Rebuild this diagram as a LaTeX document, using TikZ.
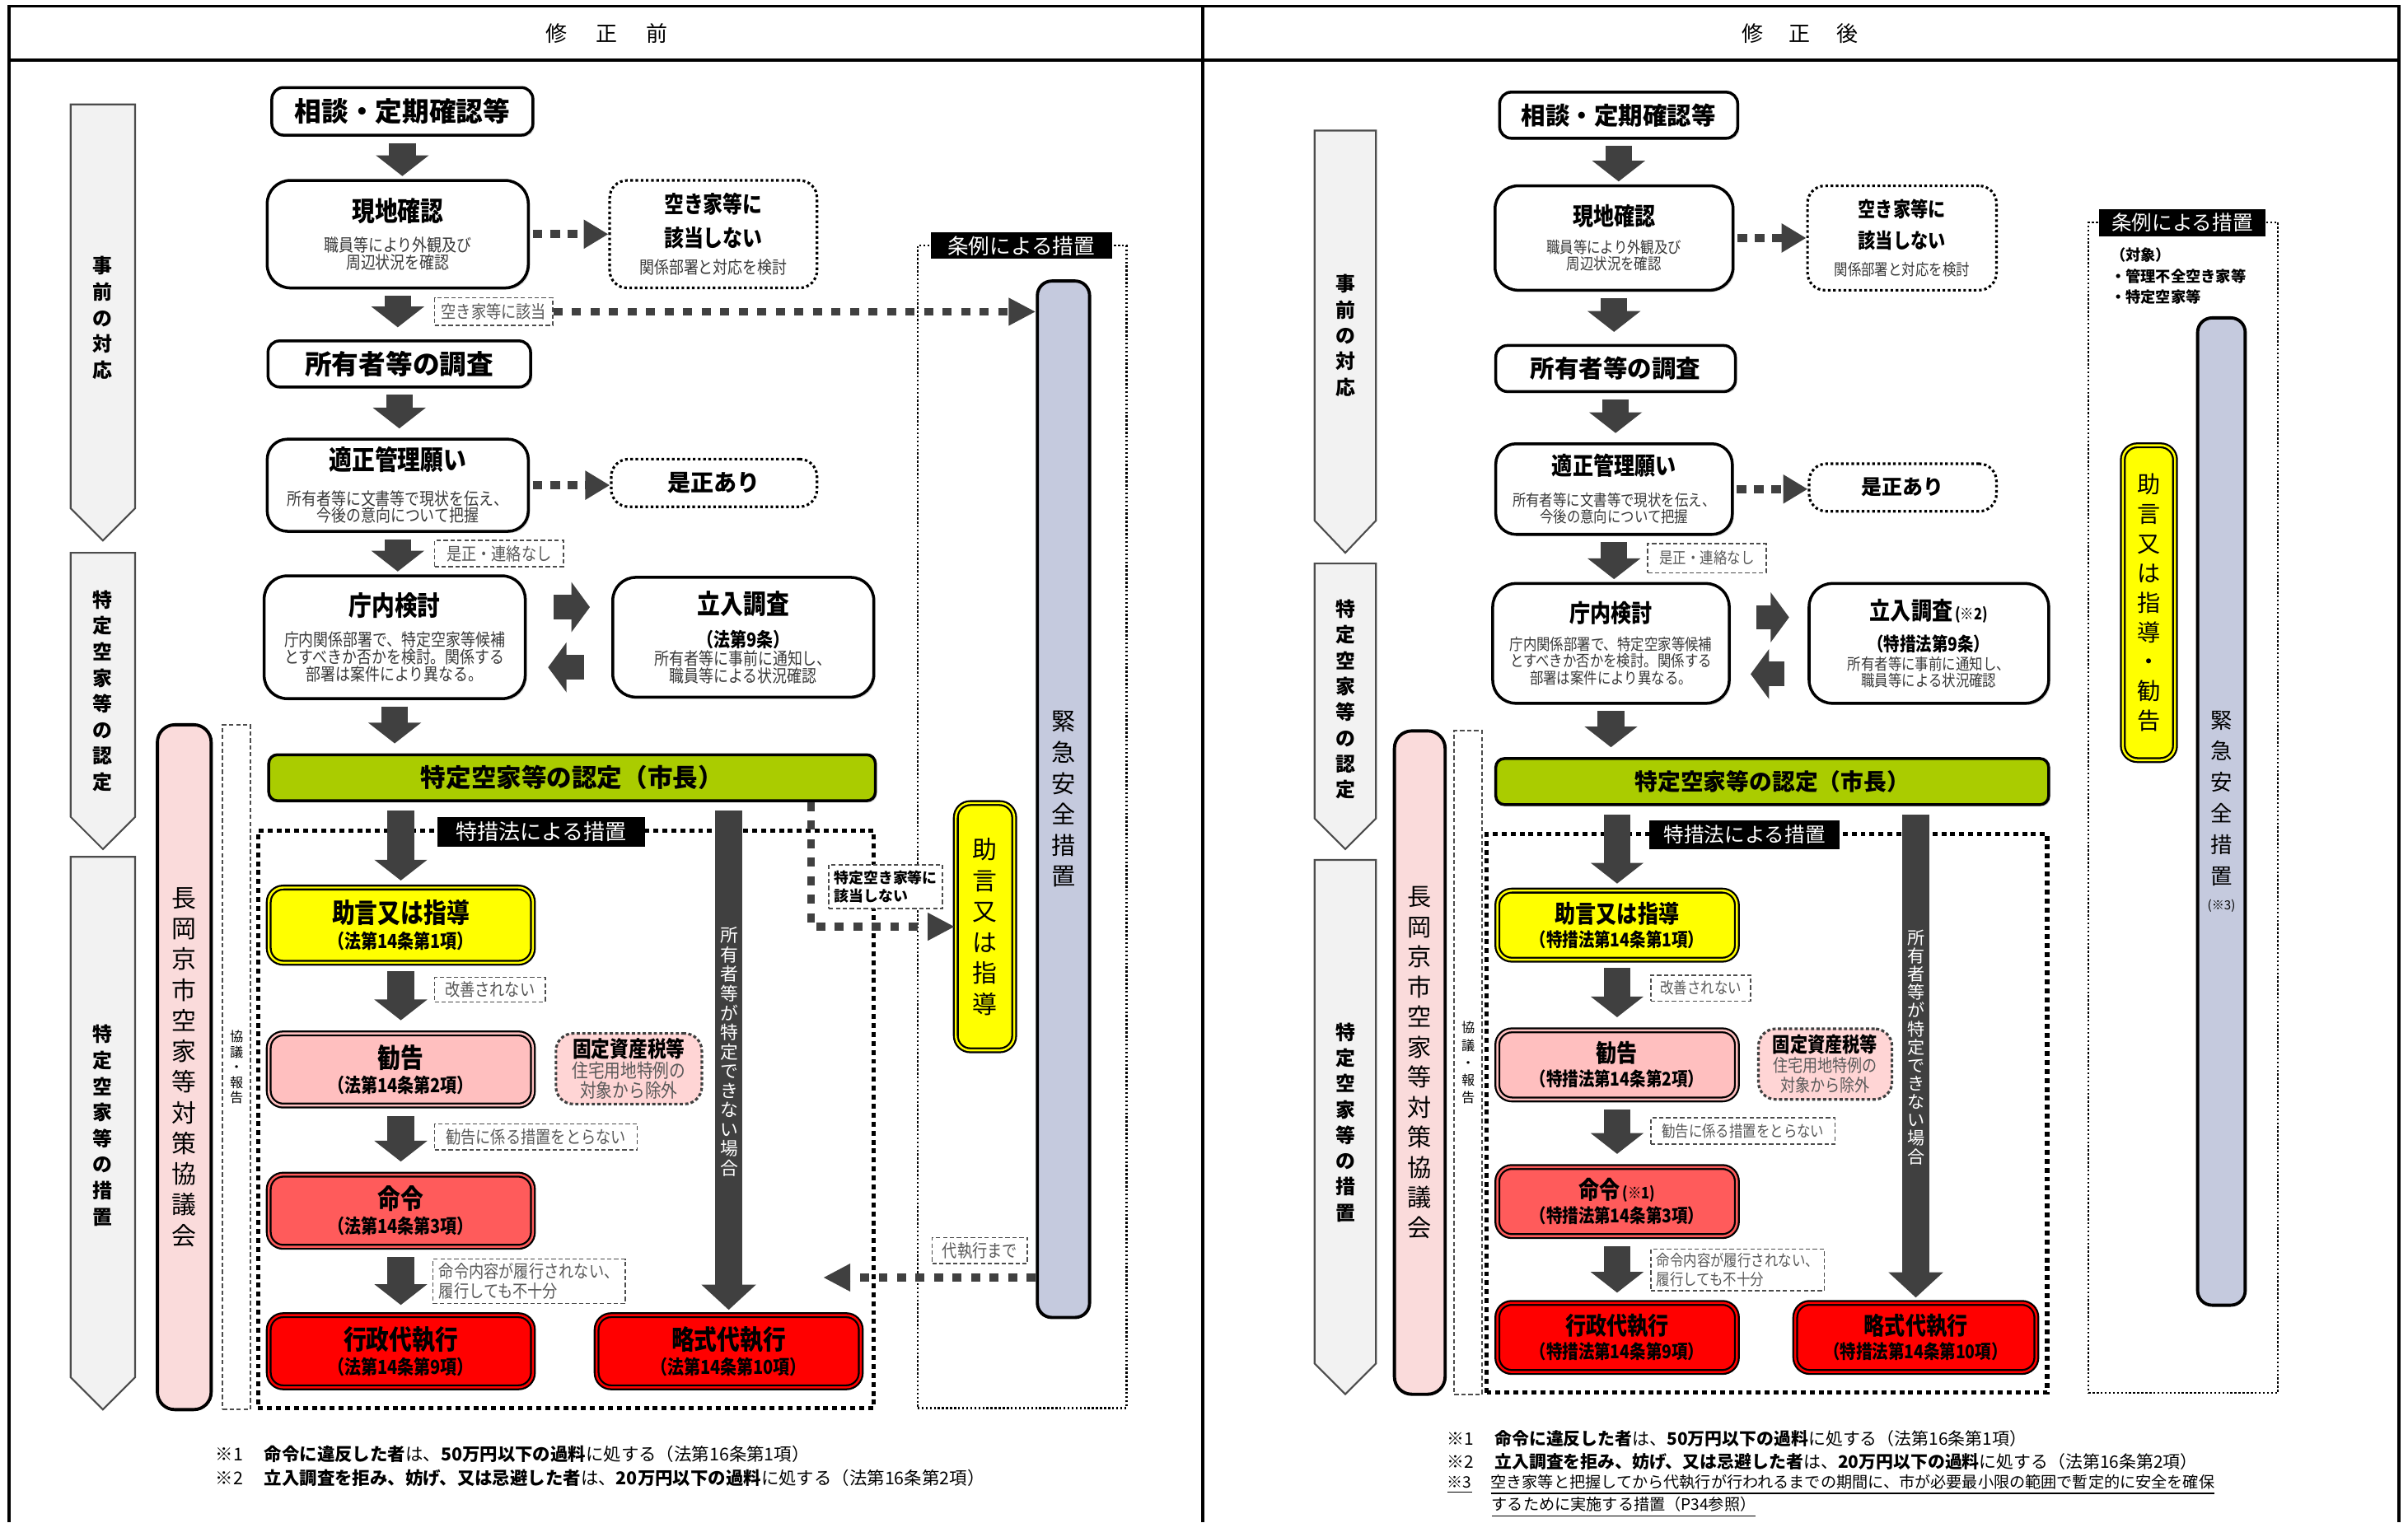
\documentclass[tikz,border=0pt]{standalone}
\usepackage{fontspec}
\setmainfont{Noto Sans CJK JP}
\newfontfamily\nar{Noto Sans CJK JP}[FakeStretch=0.85]
\usetikzlibrary{arrows.meta, shadows}

\definecolor{dgray}{HTML}{404040}
\definecolor{phasegray}{HTML}{F2F2F2}
\definecolor{pinkbar}{HTML}{FADBDB}
\definecolor{ngreen}{HTML}{AACC00}
\definecolor{kyellow}{HTML}{FFFF00}
\definecolor{kpink}{HTML}{FFBFBF}
\definecolor{mred}{HTML}{FF5B5B}
\definecolor{dred}{HTML}{FF0000}
\definecolor{kotpink}{HTML}{FFD5D5}
\definecolor{lav}{HTML}{C5CADE}

% fonts, left (A) and right (B) panel
\newcommand{\tA}{\fontsize{9.3}{11}\selectfont\bfseries\color{black}}
\newcommand{\tB}{\fontsize{8.4}{10}\selectfont\bfseries\color{black}}
\newcommand{\tC}{\fontsize{8}{9.5}\selectfont\bfseries\color{black}}
\newcommand{\tD}{\fontsize{7.1}{8.5}\selectfont\bfseries\color{black}}
\newcommand{\sA}{\nar\fontsize{6}{5.9}\selectfont\color{black!78}}
\newcommand{\sB}{\nar\fontsize{5.5}{5.8}\selectfont\color{black!78}}
\newcommand{\lA}{\nar\fontsize{6.7}{7.5}\selectfont\bfseries\color{black}}
\newcommand{\lB}{\nar\fontsize{6.5}{7.3}\selectfont\bfseries\color{black}}
\newcommand{\hA}{\nar\fontsize{6.1}{6.9}\selectfont}
\newcommand{\hB}{\nar\fontsize{5.5}{6.6}\selectfont}
\newcommand{\kA}{\nar\fontsize{7.6}{8}\selectfont\bfseries\color{black}}
\newcommand{\kB}{\nar\fontsize{6.6}{7}\selectfont}
\newcommand{\kC}{\nar\fontsize{7.1}{8}\selectfont\bfseries\color{black}}
\newcommand{\kD}{\nar\fontsize{6.05}{6.8}\selectfont}

\tikzstyle{box} = [rectangle, rounded corners=4pt,
draw=black, line width=1pt,
fill=white, align=center, inner sep=0pt,
drop shadow={shadow xshift=0.6pt, shadow yshift=-0.6pt, fill=black!35}]
\tikzstyle{dotbox} = [rectangle, rounded corners=6pt,
draw=black, line width=0.9pt, dash pattern=on 0.9pt off 0.9pt,
align=center, inner sep=0pt]
\tikzstyle{hint} = [rectangle, draw=black!70, line width=0.45pt,
dash pattern=on 1.5pt off 0.9pt, fill=white, text=black!65,
align=left, inner sep=0pt]
\tikzstyle{law} = [rectangle, rounded corners=5pt,
draw=black, line width=0.65pt, double distance=0.7pt,
align=center, inner sep=0pt,
drop shadow={shadow xshift=0.6pt, shadow yshift=-0.6pt, fill=black!35}]
\tikzstyle{kotbox} = [rectangle, rounded corners=6pt,
draw=black!75, line width=0.9pt, dash pattern=on 1.1pt off 0.8pt,
fill=kotpink, text=black!65, align=center, inner sep=0pt]
\tikzstyle{tag} = [rectangle, fill=black, text=white, inner sep=0pt]
\tikzstyle{tokuframe} = [rectangle, draw=black, line width=1.5pt,
dash pattern=on 1.7pt off 1.4pt, inner sep=0pt]
\tikzstyle{joframe} = [rectangle, draw=black, line width=0.65pt,
dash pattern=on 0.7pt off 0.7pt, inner sep=0pt]
\tikzstyle{phase} = [draw=black!70, line width=0.6pt, fill=phasegray]
\tikzstyle{vtext} = [align=center, inner sep=0pt]
\tikzstyle{fat} = [draw=dgray, line width=9.2pt,
-{Triangle[length=0pt 0.78, width=0pt 1.95]},
shorten <=2.2pt, shorten >=1.5pt]
\tikzstyle{sqarrow} = [draw=dgray, line width=2.9pt,
dash pattern=on 3.4pt off 2.6pt,
-{Triangle[length=8.5pt, width=9.5pt]}]
\tikzstyle{dasharrow} = [draw=dgray, line width=2.7pt,
dash pattern=on 3.1pt off 3.3pt,
-{Triangle[length=9.4pt, width=9pt]}]
\tikzset{wh/.style 2 args={minimum width=#1*0.01864cm, minimum height=#2*0.01864cm}}

\begin{document}
\begin{tikzpicture}[x=0.01864cm, y=-0.01864cm]
\useasboundingbox (0,0) rectangle (1568,991.4);

% table
\draw[line width=1.1pt] (6,991.4) -- (6,4) -- (1562,4) -- (1562,991.4);
\draw[line width=1.1pt] (6,39) -- (1562,39);
\draw[line width=1.1pt] (783,4) -- (783,991.4);
\node (headA) [font=\fontsize{7.4}{9}\selectfont] at (395,22) {修\hspace{10pt}正\hspace{10pt}前};
\node (headB) [font=\fontsize{7.4}{9}\selectfont] at (1172,22) {修\hspace{9pt}正\hspace{9pt}後};

%%%%% 修正前 %%%%%
\draw[phase] (46,68) -- (88,68) -- (88,331) -- (67,352) -- (46,331) -- cycle;
\draw[phase] (46,360) -- (88,360) -- (88,532) -- (67,553) -- (46,532) -- cycle;
\draw[phase] (46,558) -- (88,558) -- (88,897) -- (67,918) -- (46,897) -- cycle;
\node (phA1) [vtext, font=\fontsize{6.8}{9}\selectfont\bfseries] at (67,207) {事\\前\\の\\対\\応};
\node (phA2) [vtext, font=\fontsize{6.8}{9}\selectfont\bfseries] at (67,450) {特\\定\\空\\家\\等\\の\\認\\定};
\node (phA3) [vtext, font=\fontsize{6.8}{9}\selectfont\bfseries] at (67,733) {特\\定\\空\\家\\等\\の\\措\\置};

\node (kyoA) [rectangle, rounded corners=6pt, draw=black, line width=1.1pt, fill=pinkbar, wh={35}{446}, vtext, font=\fontsize{8.5}{10.6}\selectfont] at (120,695) {長\\岡\\京\\市\\空\\家\\等\\対\\策\\協\\議\\会};
\node (hokA) [rectangle, draw=black!70, line width=0.5pt, dash pattern=on 1.5pt off 0.9pt, wh={18}{446}, vtext, font=\fontsize{4.6}{5.3}\selectfont] at (154,695) {協\\議\\・\\報\\告};

\node (sodanA) [box, wh={170}{31}, font=\tA] at (262,72.5) {相談・定期確認等};
\node (genchiA) [box, rounded corners=8pt, wh={170}{70}, font=\sA] at (259,152.5) {{\tA 現地確認}\\[3.5pt]職員等により外観及び\\周辺状況を確認};
\node (akiyaA) [dotbox, wh={135}{70}, font=\sA] at (464.5,152.5) {{\tC 空き家等に}\\[3.1pt]{\tC 該当しない}\\[3.6pt]関係部署と対応を検討};
\node (gaitoA) [hint, wh={77}{18}, font=\hA] at (321.5,203) {空き家等に該当};
\node (shoyuA) [box, wh={171}{30}, font=\tA] at (260,237) {所有者等の調査};
\node (tekiseiA) [box, rounded corners=7pt, wh={170}{60}, font=\sA] at (259,316) {{\tA 適正管理願い}\\[5pt]所有者等に文書等で現状を伝え、\\今後の意向について把握};
\node (zeseiA) [dotbox, wh={134}{31}, font=\tC] at (465,314.5) {是正あり};
\node (renrakuA) [hint, wh={84}{17}, font=\hA] at (325,360.5) {是正・連絡なし};
\node (chonaiA) [box, rounded corners=8pt, wh={170}{80}, font=\sA] at (257,415) {{\tA 庁内検討}\\[3.6pt]庁内関係部署で、特定空家等候補\\とすべきか否かを検討。関係する\\部署は案件により異なる。};
\node (tachiA) [box, rounded corners=8pt, wh={170}{78}, font=\sA] at (484,415) {{\tA 立入調査}\\[3.6pt]{\lA （法第9条）}\\[0.5pt]所有者等に事前に通知し、\\職員等による状況確認};
\node (ninteiA) [box, rounded corners=3pt, fill=ngreen, wh={395}{30}, font=\fontsize{8.7}{10}\selectfont\bfseries] at (372.5,506.5) {特定空家等の認定（市長）};

\node (tokuA) [tokuframe, wh={401}{376}] at (368.5,729) {};
\node (tokutagA) [tag, wh={135}{19.5}, font=\fontsize{7.4}{8}\selectfont] at (352.5,541.8) {特措法による措置};

\node (jogenA) [law, fill=kyellow, double=kyellow, wh={172}{49}, font=\lA] at (261,602.5) {{\tA 助言又は指導}\\[1.1pt]（法第14条第1項）};
\node (kaizenA) [hint, wh={72}{16}, font=\hA] at (319,644.5) {改善されない};
\node (kankokuA) [law, fill=kpink, double=kpink, wh={172}{47}, font=\lA] at (261,696.5) {{\tA 勧告}\\[1.1pt]（法第14条第2項）};
\node (koteiA) [kotbox, wh={95}{46}, font=\kB] at (409.5,696) {{\kA 固定資産税等}\\住宅用地特例の\\対象から除外};
\node (nashiA) [hint, wh={132}{17}, font=\hA] at (349,740.5) {勧告に係る措置をとらない};
\node (meireiA) [law, fill=mred, double=mred, wh={172}{47}, font=\lA] at (261,788.5) {{\tA 命令}\\[1.1pt]（法第14条第3項）};
\node (rikouA) [hint, wh={125}{29}, font=\hA] at (344.5,834.5) {命令内容が履行されない、\\履行しても不十分};
\node (gyoseiA) [law, fill=dred, double=dred, wh={172}{47}, font=\lA] at (261,880) {{\tA 行政代執行}\\[1.1pt]（法第14条第9項）};
\node (ryakuA) [law, fill=dred, double=dred, wh={172}{47}, font=\lA] at (474.5,880) {{\tA 略式代執行}\\[1.1pt]（法第14条第10項）};

\node (joreiA) [joframe, wh={136}{757}] at (665.5,538.5) {};
\node (joreitagA) [tag, wh={118}{17}, font=\fontsize{7.3}{8}\selectfont] at (665,160) {条例による措置};
\node (kinkyuA) [rectangle, rounded corners=5pt, draw=black, line width=1.1pt, fill=lav, wh={34}{675}, vtext, font=\fontsize{8.3}{10.7}\selectfont] at (692.5,520.5) {緊\\急\\安\\全\\措\\置};
\node (jogenB) [law, fill=kyellow, double=kyellow, wh={38}{161}, font=\fontsize{8.5}{10.7}\selectfont] at (641.4,603.5) {助\\言\\又\\は\\指\\導};
\node (notokuA) [hint, text=black, wh={74}{28.4}, font=\fontsize{5.1}{6.3}\selectfont\bfseries] at (576.7,577.5) {特定空き家等に\\該当しない};
\node (madeA) [hint, wh={62}{17}, font=\hA] at (638,814.5) {代執行まで};
\coordinate (tipA) at (536,832);

\node (fnA1) [anchor=west, inner sep=0pt, font=\fontsize{6.1}{7}\selectfont] at (140,947) {※1\hspace{1.2em}{\bfseries 命令に違反した者}は、{\bfseries 50万円以下の過料}に処する（法第16条第1項）};
\node (fnA2) [anchor=west, inner sep=0pt, font=\fontsize{6.1}{7}\selectfont] at (140,962.5) {※2\hspace{1.2em}{\bfseries 立入調査を拒み、妨げ、又は忌避した者}は、{\bfseries 20万円以下の過料}に処する（法第16条第2項）};

\draw[fat, shorten >=1pt] (sodanA.south) -- (sodanA.south |- genchiA.north);
\draw[fat, shorten >=4.2pt] (genchiA.south) -- (genchiA.south |- shoyuA.north);
\draw[fat, shorten >=3.2pt] (shoyuA.south) -- (shoyuA.south |- tekiseiA.north);
\draw[fat, shorten >=1pt] (tekiseiA.south) -- (tekiseiA.south |- chonaiA.north);
\draw[fat, shorten >=3.4pt] (chonaiA.south) -- (chonaiA.south |- ninteiA.north);
\draw[fat, shorten <=2.9pt, shorten >=2.1pt] (jogenA.north |- ninteiA.south) -- (jogenA.north);
\draw[fat, shorten <=2.6pt, shorten >=4.2pt] (jogenA.south) -- (kankokuA.north);
\draw[fat, shorten <=3.2pt, shorten >=4.2pt] (kankokuA.south) -- (meireiA.north);
\draw[fat, shorten <=3.2pt, shorten >=3.2pt] (meireiA.south) -- (gyoseiA.north);
\draw[fat, -{Triangle[length=0pt 0.95, width=0pt 2]}, shorten <=2.9pt] (ryakuA.north |- ninteiA.south) -- (ryakuA.north);
\node (fukaA) [vtext, text=white, font=\fontsize{6.2}{6.7}\selectfont] at (475,685) {所\\有\\者\\等\\が\\特\\定\\で\\き\\な\\い\\場\\合};
\draw[fat, line width=8.5pt, -{Triangle[length=0pt 0.75, width=0pt 2]}, shorten <=9.3pt, shorten >=7.4pt] ([yshift=10.4pt]chonaiA.east) -- ([yshift=10.4pt]tachiA.west);
\draw[fat, line width=8.5pt, -{Triangle[length=0pt 0.75, width=0pt 2]}, shorten <=9.3pt, shorten >=7.4pt] ([yshift=-10.4pt]tachiA.west) -- ([yshift=-10.4pt]chonaiA.east);
\draw[sqarrow, shorten <=1pt] (genchiA.east) -- (akiyaA.west);
\draw[sqarrow, shorten <=1pt] (tekiseiA.east) -- (tekiseiA.east -| zeseiA.west);
\draw[dasharrow] (gaitoA.east) -- (gaitoA.east -| kinkyuA.west);
\draw[dasharrow] ([xshift=2.9cm]ninteiA.south) |- (jogenB.west);
\draw[dasharrow] (kinkyuA.west |- tipA) -- (tipA);

%%%%% 修正後 %%%%%
\draw[phase] (856,85) -- (896,85) -- (896,339) -- (876,360) -- (856,339) -- cycle;
\draw[phase] (856,367) -- (896,367) -- (896,533) -- (876,553) -- (856,533) -- cycle;
\draw[phase] (856,560) -- (896,560) -- (896,888) -- (876,908) -- (856,888) -- cycle;
\node (phB1) [vtext, font=\fontsize{6.8}{8.9}\selectfont\bfseries] at (876,218.5) {事\\前\\の\\対\\応};
\node (phB2) [vtext, font=\fontsize{6.8}{8.9}\selectfont\bfseries] at (876,455.5) {特\\定\\空\\家\\等\\の\\認\\定};
\node (phB3) [vtext, font=\fontsize{6.8}{8.9}\selectfont\bfseries] at (876,731) {特\\定\\空\\家\\等\\の\\措\\置};

\node (kyoB) [rectangle, rounded corners=6pt, draw=black, line width=1.1pt, fill=pinkbar, wh={33}{432}, vtext, font=\fontsize{8.3}{10.4}\selectfont] at (924.5,692) {長\\岡\\京\\市\\空\\家\\等\\対\\策\\協\\議\\会};
\node (hokB) [rectangle, draw=black!70, line width=0.5pt, dash pattern=on 1.5pt off 0.9pt, wh={18}{432}, vtext, font=\fontsize{4.6}{6}\selectfont] at (956,692) {協\\議\\・\\報\\告};

\node (sodanC) [box, wh={155}{30}, font=\tB] at (1054,75) {相談・定期確認等};
\node (genchiC) [box, rounded corners=8pt, wh={155}{68}, font=\sB] at (1051,155) {{\tB 現地確認}\\[3.7pt]職員等により外観及び\\周辺状況を確認};
\node (akiyaC) [dotbox, wh={123}{68}, font=\sB] at (1238.5,155) {{\tD 空き家等に}\\[3pt]{\tD 該当しない}\\[3.4pt]関係部署と対応を検討};
\node (shoyuC) [box, wh={156}{30}, font=\tB] at (1052,240) {所有者等の調査};
\node (tekiseiC) [box, rounded corners=7pt, wh={154}{59}, font=\sB] at (1051,318.5) {{\tB 適正管理願い}\\[4.8pt]所有者等に文書等で現状を伝え、\\今後の意向について把握};
\node (zeseiC) [dotbox, wh={122}{31}, font=\tD] at (1239,317.5) {是正あり};
\node (renrakuC) [hint, wh={77}{19}, font=\hB] at (1111.5,363.5) {是正・連絡なし};
\node (chonaiC) [box, rounded corners=8pt, wh={154}{78}, font=\sB] at (1049,419) {{\tB 庁内検討}\\[3.7pt]庁内関係部署で、特定空家等候補\\とすべきか否かを検討。関係する\\部署は案件により異なる。};
\node (tachiC) [box, rounded corners=8pt, wh={156}{78}, font=\sB] at (1256,419) {{\tB 立入調査}{\fontsize{5.5}{6}\selectfont\bfseries\color{black}\,(※2)}\\[3pt]{\lB （特措法第9条）}\\[0.8pt]所有者等に事前に通知し、\\職員等による状況確認};
\node (ninteiC) [box, rounded corners=3pt, fill=ngreen, wh={360}{30}, font=\fontsize{7.9}{9}\selectfont\bfseries] at (1154,509) {特定空家等の認定（市長）};

\node (tokuC) [tokuframe, wh={365}{364}] at (1150.5,725) {};
\node (tokutagC) [tag, wh={124}{19}, font=\fontsize{7}{8}\selectfont] at (1136,543.7) {特措法による措置};

\node (jogenC) [law, fill=kyellow, double=kyellow, wh={156}{45}, font=\lB] at (1053,602.5) {{\tB 助言又は指導}\\[1pt]（特措法第14条第1項）};
\node (kaizenC) [hint, wh={65}{17}, font=\hB] at (1107.5,643.5) {改善されない};
\node (kankokuC) [law, fill=kpink, double=kpink, wh={156}{45}, font=\lB] at (1053,693.5) {{\tB 勧告}\\[1pt]（特措法第14条第2項）};
\node (koteiC) [kotbox, wh={87}{46}, font=\kD] at (1188.5,693) {{\kC 固定資産税等}\\住宅用地特例の\\対象から除外};
\node (nashiC) [hint, wh={120}{17}, font=\hB] at (1135,736.5) {勧告に係る措置をとらない};
\node (meireiC) [law, fill=mred, double=mred, wh={156}{45}, font=\lB] at (1053,782.5) {{\tB 命令}{\fontsize{5.5}{6}\selectfont\bfseries\,(※1)}\\[1pt]（特措法第14条第3項）};
\node (rikouC) [hint, wh={113}{27}, font=\hB] at (1131.5,827) {命令内容が履行されない、\\履行しても不十分};
\node (gyoseiC) [law, fill=dred, double=dred, wh={156}{45}, font=\lB] at (1053,871) {{\tB 行政代執行}\\[1pt]（特措法第14条第9項）};
\node (ryakuC) [law, fill=dred, double=dred, wh={157}{45}, font=\lB] at (1247.5,871) {{\tB 略式代執行}\\[1pt]（特措法第14条第10項）};

\node (joreiC) [joframe, wh={123.4}{762}] at (1421.7,526) {};
\node (joreitagC) [tag, wh={108}{18}, font=\fontsize{7}{8}\selectfont] at (1421,145) {条例による措置};
\node (taishoC) [anchor=north west, inner sep=0pt, align=left, font=\fontsize{5.2}{7.3}\selectfont\bfseries] at (1374,161) {（対象）\\・管理不全空き家等\\・特定空家等};
\node (kinkyuC) [rectangle, rounded corners=5pt, draw=black, line width=1.1pt, fill=lav, wh={31}{643}, vtext, font=\fontsize{7.5}{10.8}\selectfont] at (1446.5,528.5) {緊\\急\\安\\全\\措\\置\\[-2pt]{\fontsize{4.3}{5}\selectfont (※3)}};
\node (jogenD) [law, fill=kyellow, double=kyellow, wh={34}{205}, font=\fontsize{8}{10.2}\selectfont] at (1399.3,392.5) {助\\言\\又\\は\\指\\導\\・\\勧\\告};

\node (fnB1) [anchor=west, inner sep=0pt, font=\fontsize{5.95}{7}\selectfont] at (942,937) {※1\hspace{1.2em}{\bfseries 命令に違反した者}は、{\bfseries 50万円以下の過料}に処する（法第16条第1項）};
\node (fnB2) [anchor=west, inner sep=0pt, font=\fontsize{5.95}{7}\selectfont] at (942,952) {※2\hspace{1.2em}{\bfseries 立入調査を拒み、妨げ、又は忌避した者}は、{\bfseries 20万円以下の過料}に処する（法第16条第2項）};
\node (fnB3) [anchor=west, inner sep=0pt, font=\fontsize{5.45}{7}\selectfont] at (942,967) {\underline{※3}\hspace{1.2em}\underline{空き家等と把握してから代執行が行われるまでの期間に、市が必要最小限の範囲で暫定的に安全を確保}};
\node (fnB4) [anchor=west, inner sep=0pt, font=\fontsize{5.45}{7}\selectfont] at (971,981.5) {\underline{するために実施する措置（P34参照）}};

\draw[fat, shorten >=1pt] (sodanC.south) -- (sodanC.south |- genchiC.north);
\draw[fat, shorten >=4.2pt] (genchiC.south) -- (genchiC.south |- shoyuC.north);
\draw[fat, shorten >=3.2pt] (shoyuC.south) -- (shoyuC.south |- tekiseiC.north);
\draw[fat, shorten >=1pt] (tekiseiC.south) -- (tekiseiC.south |- chonaiC.north);
\draw[fat, shorten >=3.4pt] (chonaiC.south) -- (chonaiC.south |- ninteiC.north);
\draw[fat, shorten <=2.9pt, shorten >=2.1pt] (jogenC.north |- ninteiC.south) -- (jogenC.north);
\draw[fat, shorten <=2.6pt, shorten >=4.2pt] (jogenC.south) -- (kankokuC.north);
\draw[fat, shorten <=3.2pt, shorten >=4.2pt] (kankokuC.south) -- (meireiC.north);
\draw[fat, shorten <=3.2pt, shorten >=3.2pt] (meireiC.south) -- (gyoseiC.north);
\draw[fat, -{Triangle[length=0pt 0.95, width=0pt 2]}, shorten <=2.9pt] (ryakuC.north |- ninteiC.south) -- (ryakuC.north);
\node (fukaC) [vtext, text=white, font=\fontsize{6}{6.3}\selectfont] at (1248,682) {所\\有\\者\\等\\が\\特\\定\\で\\き\\な\\い\\場\\合};
\draw[fat, line width=8.5pt, -{Triangle[length=0pt 0.75, width=0pt 2]}, shorten <=9pt, shorten >=6.4pt] ([yshift=9pt]chonaiC.east) -- ([yshift=9pt]tachiC.west);
\draw[fat, line width=8.5pt, -{Triangle[length=0pt 0.75, width=0pt 2]}, shorten <=8pt, shorten >=6.9pt] ([yshift=-10.6pt]tachiC.west) -- ([yshift=-10.6pt]chonaiC.east);
\draw[sqarrow, shorten <=1pt] (genchiC.east) -- (akiyaC.west);
\draw[sqarrow, shorten <=1pt] (tekiseiC.east) -- (tekiseiC.east -| zeseiC.west);

\end{tikzpicture}
\end{document}
